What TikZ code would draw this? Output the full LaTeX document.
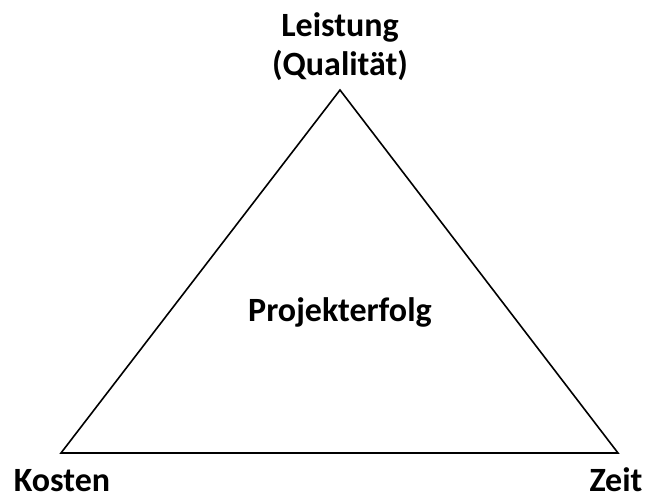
\documentclass[tikz,border=0pt]{standalone}
\usepackage{fontspec}
\setmainfont{Carlito}
\usetikzlibrary{positioning}

\begin{document}
\begin{tikzpicture}[
  x=1pt, y=-1pt,
  font=\fontsize{34}{39}\selectfont\bfseries,
  lbl/.style={inner sep=0pt, align=center, anchor=base},
  edge/.style={line width=1.6pt, line join=miter}
]
  \useasboundingbox (0,0) rectangle (649,497);
  % corners of the triangle
  \coordinate (top) at (340,90);
  \coordinate (left) at (61,453);
  \coordinate (right) at (618,453);
  \draw[edge] (top) -- (left) -- (right) -- cycle;
  % labels
  \node[lbl] (leistung) at (340,76) {Leistung\\(Qualität)};
  \node[lbl] (erfolg) at (340,322) {Projekterfolg};
  \node[lbl] (kosten) at (62,492) {Kosten};
  \node[lbl] (zeit) at (616,492) {Zeit};
\end{tikzpicture}
\end{document}
